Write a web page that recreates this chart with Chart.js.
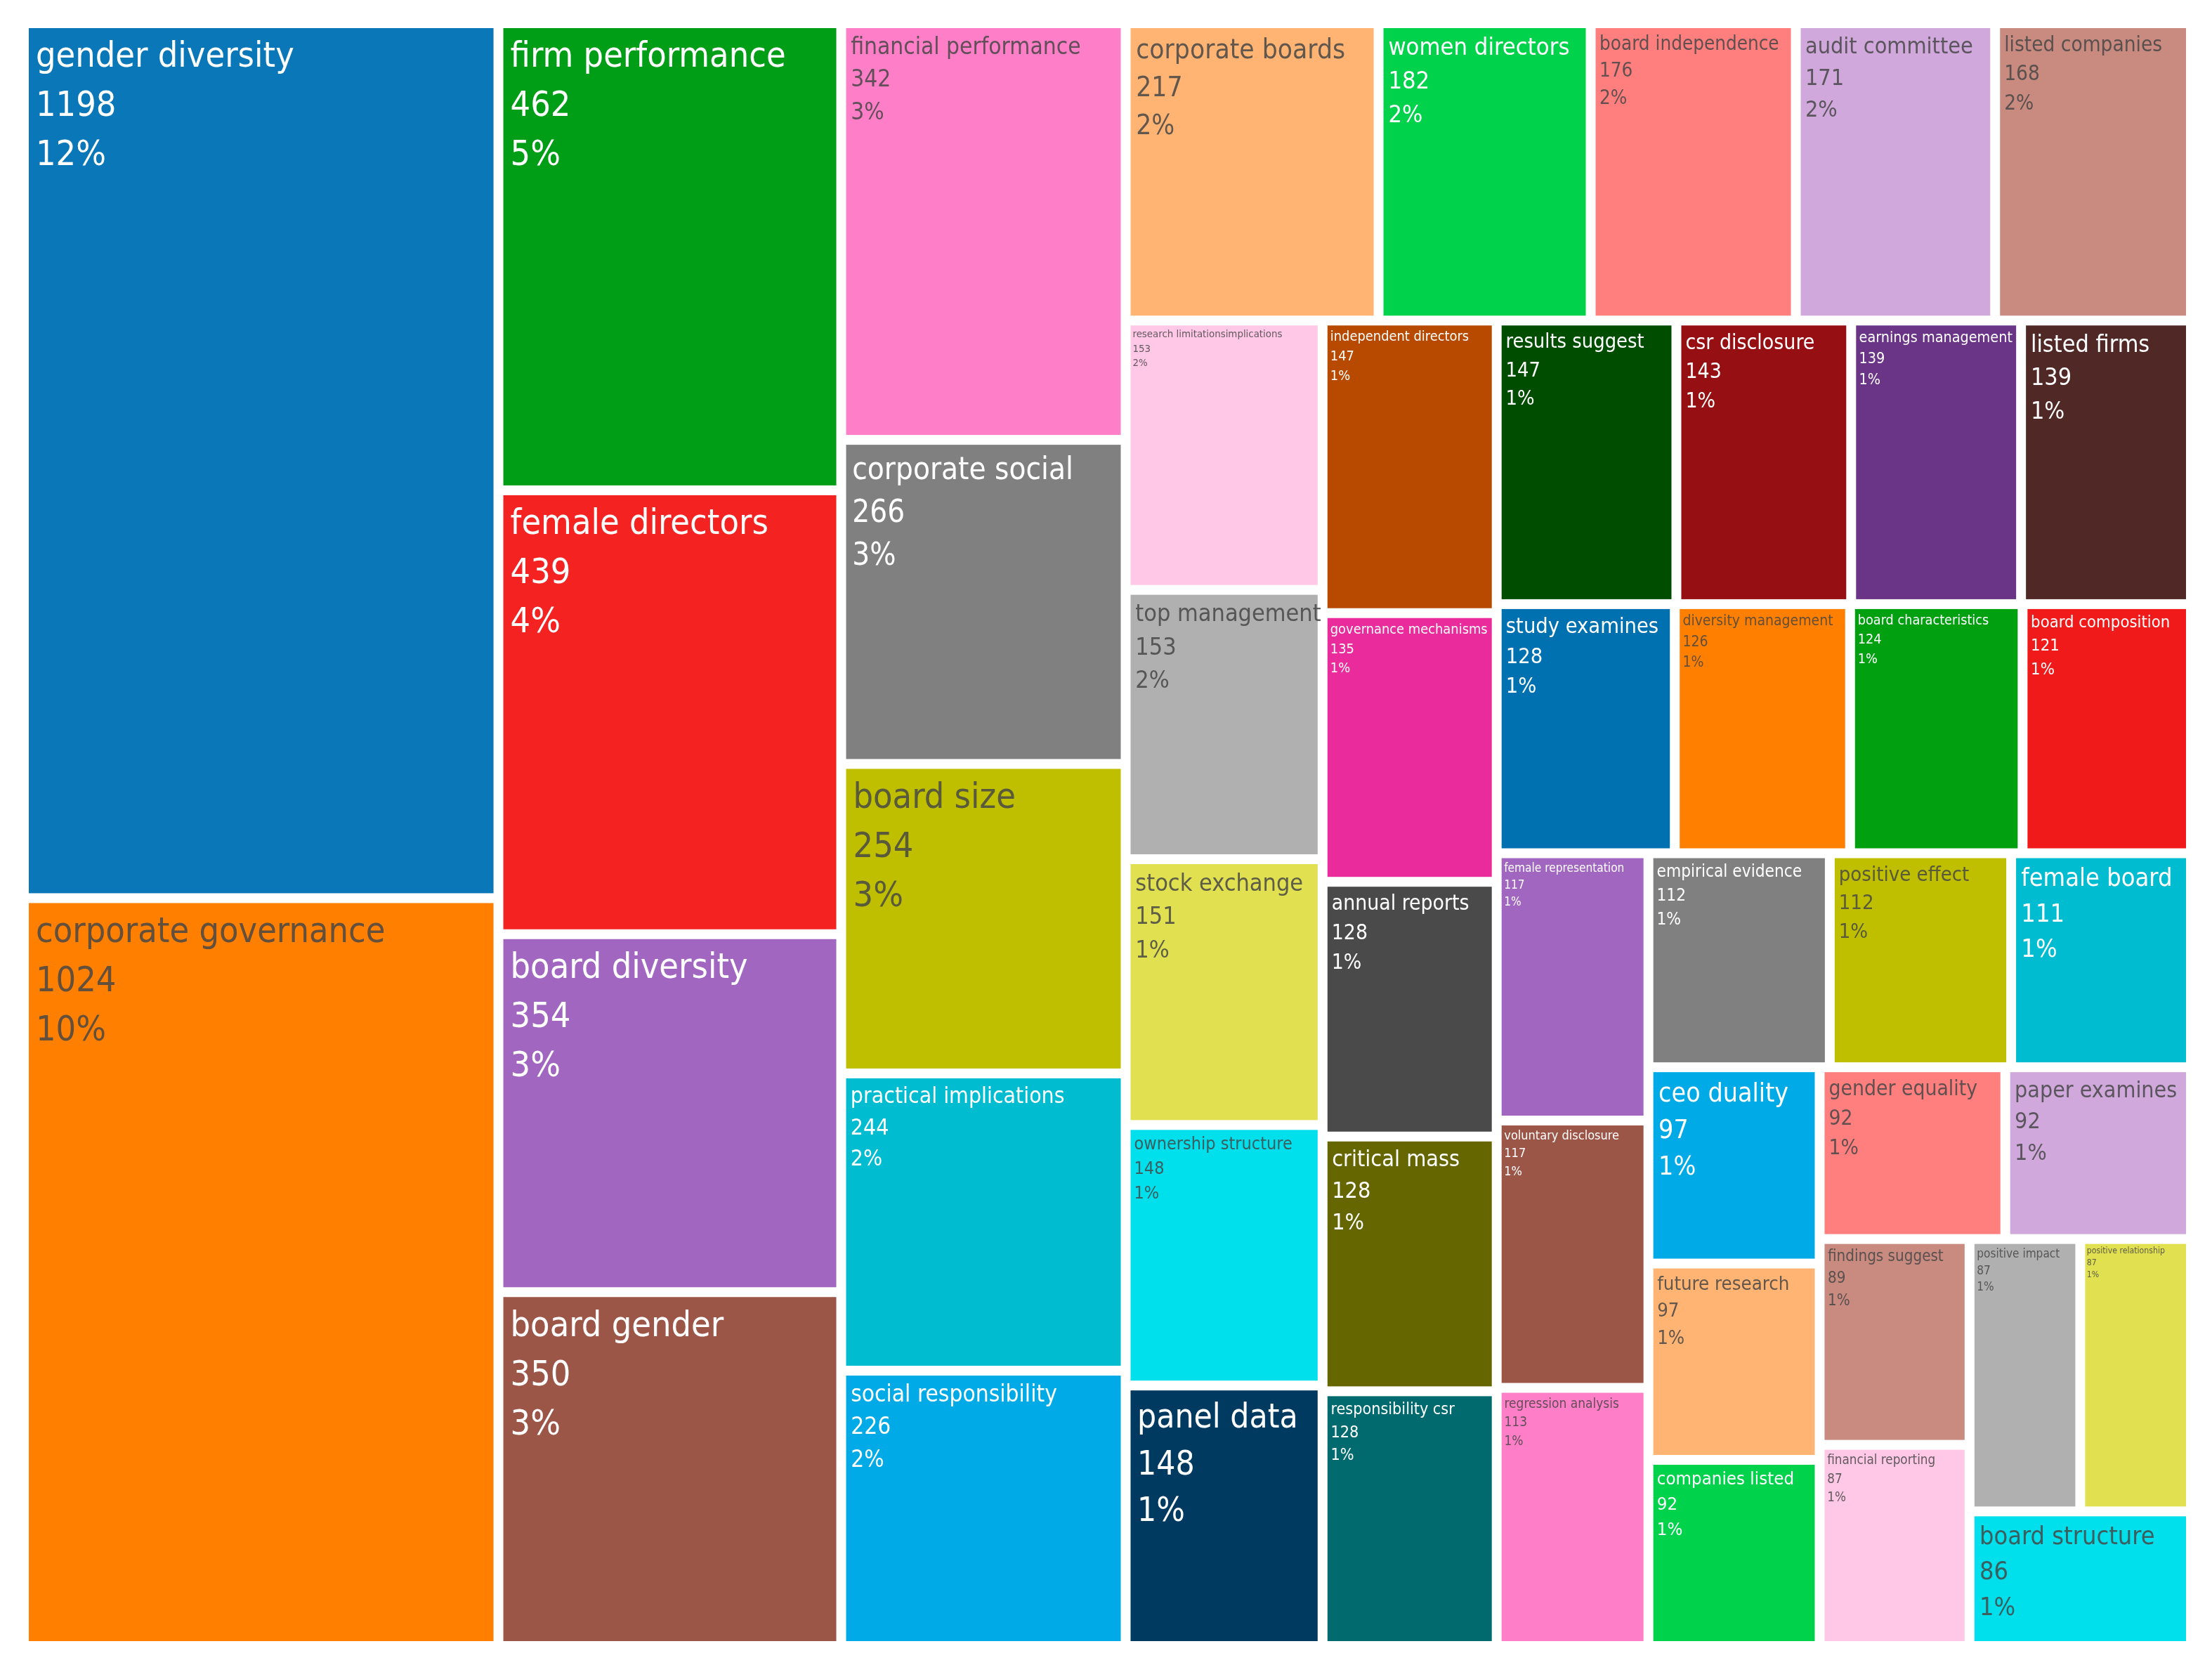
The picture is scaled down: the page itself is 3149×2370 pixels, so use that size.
<!DOCTYPE html>
<html>
<head>
<meta charset="utf-8">
<script src="https://cdn.jsdelivr.net/npm/chart.js@4/dist/chart.umd.min.js"></script>
<style>
  html, body { margin: 0; padding: 0; background: #fff; }
  #wrap { width: 3149px; height: 2370px; }
</style>
</head>
<body>
<div id="wrap"><canvas id="tree"></canvas></div>
<script>
const labels = ["gender diversity", "corporate governance", "firm performance", "female directors", "board diversity", "board gender",
  "financial performance", "corporate social", "board size", "practical implications", "social responsibility",
  "corporate boards", "women directors", "board independence", "audit committee", "listed companies",
  "research limitationsimplications", "top management", "stock exchange", "ownership structure", "panel data",
  "independent directors", "governance mechanisms", "annual reports", "critical mass", "responsibility csr",
  "results suggest", "csr disclosure", "earnings management", "listed firms",
  "study examines", "diversity management", "board characteristics", "board composition",
  "female representation", "voluntary disclosure", "regression analysis",
  "empirical evidence", "positive effect", "female board",
  "ceo duality", "future research", "companies listed",
  "gender equality", "paper examines",
  "findings suggest", "financial reporting",
  "positive impact", "positive relationship", "board structure"];
const counts = [1198, 1024, 462, 439, 354, 350,
  342, 266, 254, 244, 226,
  217, 182, 176, 171, 168,
  153, 153, 151, 148, 148,
  147, 135, 128, 128, 128,
  147, 143, 139, 139,
  128, 126, 124, 121,
  117, 117, 113,
  112, 112, 111,
  97, 97, 92,
  92, 92,
  89, 87,
  87, 87, 86];
const percents = ["12%", "10%", "5%", "4%", "3%", "3%",
  "3%", "3%", "3%", "2%", "2%",
  "2%", "2%", "2%", "2%", "2%",
  "2%", "2%", "1%", "1%", "1%",
  "1%", "1%", "1%", "1%", "1%",
  "1%", "1%", "1%", "1%",
  "1%", "1%", "1%", "1%",
  "1%", "1%", "1%",
  "1%", "1%", "1%",
  "1%", "1%", "1%",
  "1%", "1%",
  "1%", "1%",
  "1%", "1%", "1%"];
const colors = ["#0a77b8", "#ff7f00", "#009e16", "#f52222", "#a066c0", "#9c5648",
  "#ff7ec8", "#808080", "#bfbf00", "#00bcd0", "#00aae6",
  "#ffb473", "#00d24c", "#ff7f7f", "#d0a8dc", "#c98a80",
  "#ffc8e6", "#b0b0b0", "#e0e050", "#00e0ec", "#003a60",
  "#b84a00", "#e92b9c", "#4a4a4a", "#666600", "#006a6e",
  "#004d00", "#960f12", "#6a3587", "#502826",
  "#0071b0", "#ff7f00", "#00a010", "#f01a1a",
  "#a066c0", "#9c5648", "#ff7ec8",
  "#808080", "#bfbf00", "#00bcd0",
  "#00aae6", "#ffb473", "#00d24c",
  "#ff7f7f", "#d0a8dc",
  "#c98a80", "#ffc8e6",
  "#b0b0b0", "#e0e050", "#00e0ec"];
// how many cells each slice of the layout takes, and its direction (v = column, h = row)
const groupSizes = [2, 4, 5, 5, 5, 5, 4, 4, 3, 3, 3, 2, 2, 2, 1];
const groupDirs = ["v", "v", "v", "h", "v", "v", "h", "h", "v", "h", "v", "h", "v", "h", "h"];

const W = 3071, H = 2294;

function layout() {
  const total = counts.reduce((a, b) => a + b, 0);
  const k = (W * H) / total;
  let r = { x: 0, y: 0, w: W, h: H };
  const cells = [];
  let i = 0;
  groupSizes.forEach((n, g) => {
    const vals = counts.slice(i, i + n);
    const area = vals.reduce((a, b) => a + b, 0) * k;
    if (groupDirs[g] === "v") {
      const cw = area / r.h;
      let y = r.y;
      vals.forEach((v, j) => {
        const ch = v * k / cw;
        cells.push({ i: i + j, x: r.x, y, w: cw, h: ch });
        y += ch;
      });
      r = { x: r.x + cw, y: r.y, w: r.w - cw, h: r.h };
    } else {
      const rh = area / r.w;
      let x = r.x;
      vals.forEach((v, j) => {
        const cw = v * k / rh;
        cells.push({ i: i + j, x, y: r.y, w: cw, h: rh });
        x += cw;
      });
      r = { x: r.x, y: r.y + rh, w: r.w, h: r.h - rh };
    }
    i += n;
  });
  return cells;
}
const cells = layout();

function isDark(hex) {
  const n = parseInt(hex.slice(1), 16);
  const r = n >> 16, g = (n >> 8) & 255, b = n & 255;
  return (0.299 * r + 0.587 * g + 0.114 * b) < 150;
}

const treemapPlugin = {
  id: "treemap",
  afterDatasetsDraw(chart) {
    const { ctx, scales: { x, y } } = chart;
    const gap = 7;
    cells.forEach(c => {
      const x0 = x.getPixelForValue(c.x) + gap, x1 = x.getPixelForValue(c.x + c.w) - gap;
      const y0 = y.getPixelForValue(c.y) + gap, y1 = y.getPixelForValue(c.y + c.h) - gap;
      const col = colors[c.i];
      ctx.save();
      ctx.fillStyle = col;
      ctx.fillRect(x0, y0, x1 - x0, y1 - y0);
      const name = labels[c.i];
      const fs = Math.min(50, (x1 - x0) / (name.length * 0.56));
      ctx.font = fs + "px 'DejaVu Sans Condensed', 'Liberation Sans Narrow', sans-serif";
      ctx.fillStyle = isDark(col) ? "#ffffff" : "rgba(70,70,70,0.85)";
      ctx.textBaseline = "top";
      const px = x0 + fs * 0.2, py = y0 + fs * 0.35;
      const lh = fs * 1.4;
      [name, String(counts[c.i]), percents[c.i]].forEach((t, j) => ctx.fillText(t, px, py + j * lh));
      ctx.restore();
    });
  }
};

new Chart(document.getElementById("tree"), {
  type: "scatter",
  data: { datasets: [{ data: [] }] },
  options: {
    responsive: true,
    maintainAspectRatio: false,
    animation: false,
    layout: { padding: { left: 34, right: 30, top: 33, bottom: 27 } },
    scales: {
      x: { display: false, min: 0, max: W },
      y: { display: false, min: 0, max: H, reverse: true }
    },
    plugins: { legend: { display: false }, tooltip: { enabled: false } }
  },
  plugins: [treemapPlugin]
});
</script>
</body>
</html>
